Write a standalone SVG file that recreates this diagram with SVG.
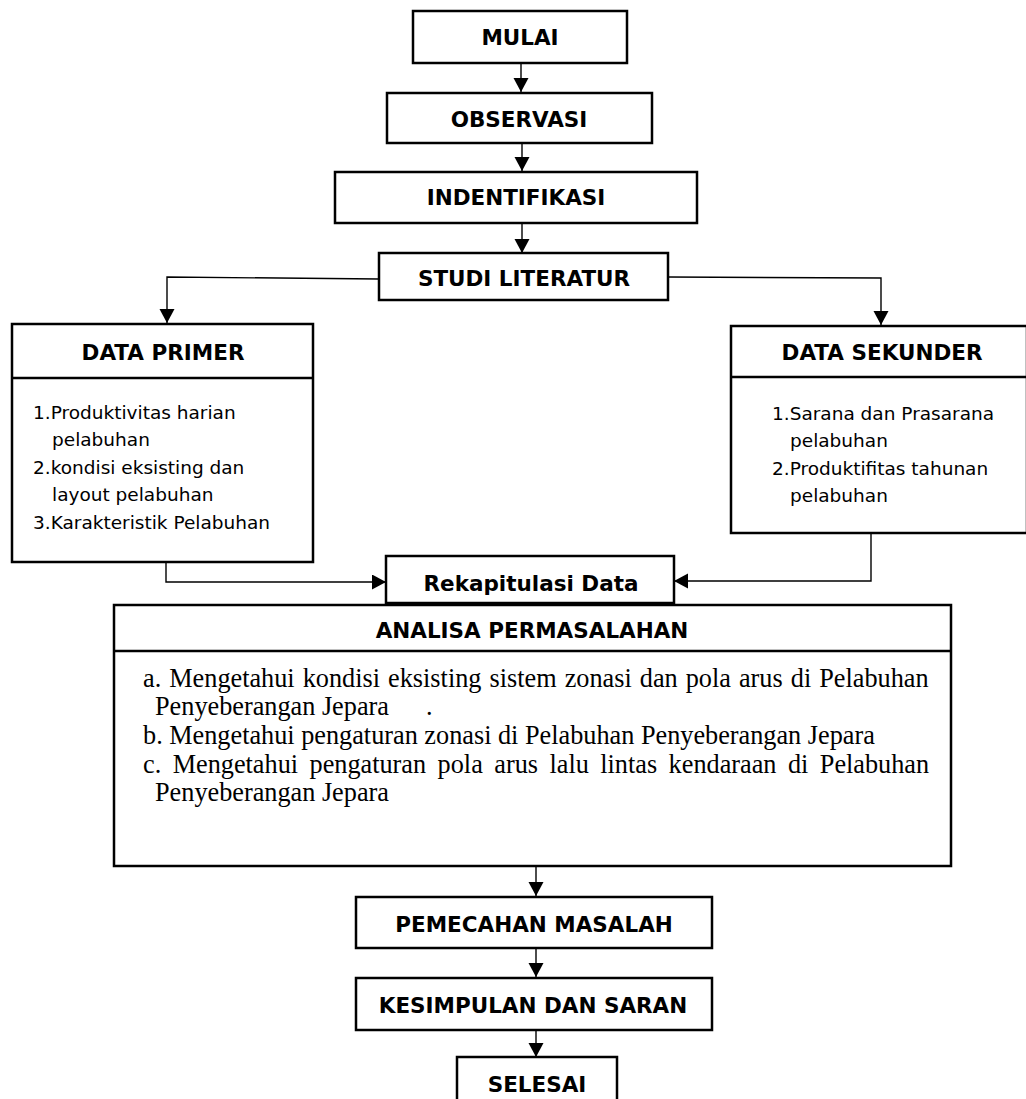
<svg xmlns="http://www.w3.org/2000/svg" width="1026" height="1099" viewBox="0 0 1026 1099">
<style>
.box{fill:#fff;stroke:#000;stroke-width:2.5}
.sep{stroke:#000;stroke-width:2.5;fill:none}
.h{font-family:"DejaVu Sans",Verdana,sans-serif;font-weight:bold;font-size:21.5px;text-anchor:middle;fill:#000}
.t{font-family:"DejaVu Sans",Verdana,sans-serif;font-size:18.5px;fill:#000}
.s{font-family:"Liberation Serif","Times New Roman",serif;font-size:26.25px;fill:#000}
.c{fill:none;stroke:#000;stroke-width:1.4}
</style>
<defs>
<marker id="ah" markerUnits="userSpaceOnUse" markerWidth="15" markerHeight="16" refX="14" refY="7.5" orient="auto">
<path d="M0,0 L14,7.5 L0,15 z" fill="#000"/>
</marker>
</defs>
<rect width="1026" height="1099" fill="#fff"/>
<g id="connectors">
<line class="c" x1="521" y1="63" x2="521" y2="92" marker-end="url(#ah)"/>
<line class="c" x1="522" y1="143" x2="522" y2="171" marker-end="url(#ah)"/>
<line class="c" x1="522" y1="223" x2="522" y2="253" marker-end="url(#ah)"/>
<polyline class="c" points="379,279 167,277 167,323" marker-end="url(#ah)"/>
<polyline class="c" points="668,277 881,278 881,325" marker-end="url(#ah)"/>
<polyline class="c" points="166,562 166,582 386,582" marker-end="url(#ah)"/>
<polyline class="c" points="871,533 871,581 674,581" marker-end="url(#ah)"/>
<line class="c" x1="536" y1="866" x2="536" y2="896" marker-end="url(#ah)"/>
<line class="c" x1="536" y1="948" x2="536" y2="977" marker-end="url(#ah)"/>
<line class="c" x1="536" y1="1030" x2="536" y2="1057" marker-end="url(#ah)"/>
</g>
<g id="mulai">
<rect class="box" x="413" y="11" width="214" height="52"/>
<text class="h" x="520" y="45">MULAI</text>
</g>
<g id="observasi">
<rect class="box" x="387" y="93" width="265" height="50"/>
<text class="h" x="519" y="127">OBSERVASI</text>
</g>
<g id="indentifikasi">
<rect class="box" x="335" y="172" width="362" height="51"/>
<text class="h" x="516" y="205">INDENTIFIKASI</text>
</g>
<g id="studi-literatur">
<rect class="box" x="379" y="253" width="289" height="47"/>
<text class="h" x="524" y="286">STUDI LITERATUR</text>
</g>
<g id="data-primer">
<rect class="box" x="12" y="324" width="301" height="238"/>
<line class="sep" x1="12" y1="378" x2="313" y2="378"/>
<text class="h" x="163" y="360">DATA PRIMER</text>
<text class="t" x="33" y="419">1.Produktivitas harian</text>
<text class="t" x="52" y="446">pelabuhan</text>
<text class="t" x="33" y="474">2.kondisi eksisting dan</text>
<text class="t" x="52" y="501">layout pelabuhan</text>
<text class="t" x="33" y="529">3.Karakteristik Pelabuhan</text>
</g>
<g id="data-sekunder">
<rect class="box" x="731" y="326" width="296" height="207"/>
<line class="sep" x1="731" y1="377" x2="1026" y2="377"/>
<text class="h" x="882" y="360">DATA SEKUNDER</text>
<text class="t" x="772" y="420">1.Sarana dan Prasarana</text>
<text class="t" x="790" y="447">pelabuhan</text>
<text class="t" x="772" y="475">2.Produktifitas tahunan</text>
<text class="t" x="790" y="502">pelabuhan</text>
</g>
<g id="rekapitulasi-data">
<rect class="box" x="386" y="556" width="288" height="47"/>
<text class="h" x="531" y="591">Rekapitulasi Data</text>
</g>
<g id="analisa-permasalahan">
<rect class="box" x="114" y="605" width="837" height="261"/>
<line class="sep" x1="114" y1="651" x2="951" y2="651"/>
<text class="h" x="532" y="638">ANALISA PERMASALAHAN</text>
<text class="s" x="143" y="687" word-spacing="1.5">a. Mengetahui kondisi eksisting sistem zonasi dan pola arus di Pelabuhan</text>
<text class="s" x="155" y="715">Penyeberangan Jepara<tspan x="426">.</tspan></text>
<text class="s" x="143" y="744">b. Mengetahui pengaturan zonasi di Pelabuhan Penyeberangan Jepara</text>
<text class="s" x="143" y="773" word-spacing="4.9">c. Mengetahui pengaturan pola arus lalu lintas kendaraan di Pelabuhan</text>
<text class="s" x="155" y="801">Penyeberangan Jepara</text>
</g>
<g id="pemecahan-masalah">
<rect class="box" x="356" y="897" width="356" height="51"/>
<text class="h" x="534" y="932">PEMECAHAN MASALAH</text>
</g>
<g id="kesimpulan-dan-saran">
<rect class="box" x="356" y="978" width="356" height="52"/>
<text class="h" x="533" y="1013">KESIMPULAN DAN SARAN</text>
</g>
<g id="selesai">
<rect class="box" x="457" y="1057" width="160" height="60"/>
<text class="h" x="537" y="1092">SELESAI</text>
</g>
</svg>
